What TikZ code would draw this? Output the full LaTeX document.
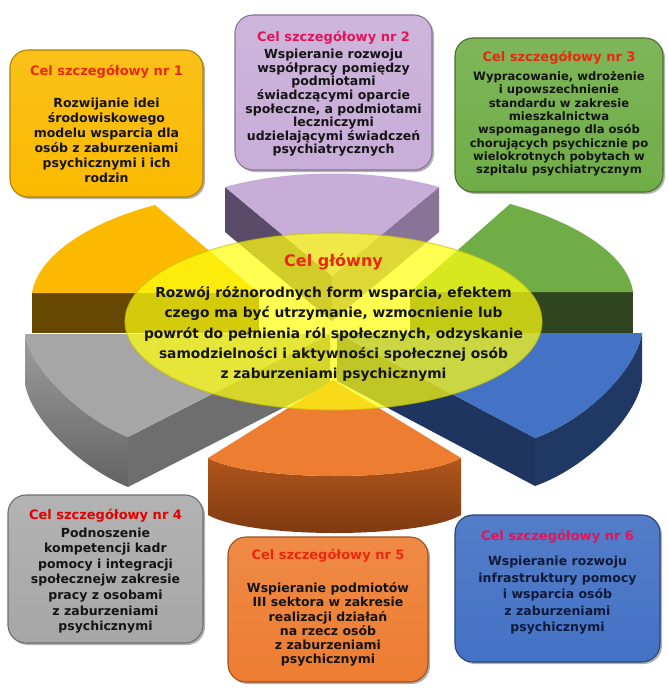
\documentclass[tikz,border=0pt]{standalone}
\usepackage{fontspec}
\setmainfont{DejaVu Sans}
\usetikzlibrary{shadows}
\definecolor{ptop}{HTML}{C8ADD8}
\definecolor{pdark}{HTML}{5A4B69}
\definecolor{pmid}{HTML}{887496}
\definecolor{ytop}{HTML}{FBBA00}
\definecolor{ydark}{HTML}{664800}
\definecolor{gtop}{HTML}{70AD47}
\definecolor{gdark}{HTML}{2E4520}
\definecolor{grtop}{HTML}{A6A6A6}
\definecolor{grcut}{HTML}{6E6E6E}
\definecolor{btop}{HTML}{4472C4}
\definecolor{bdark}{HTML}{1F3864}
\definecolor{otop}{HTML}{ED7D31}
\definecolor{oside}{HTML}{B0561C}
\definecolor{osidedark}{HTML}{7A3810}
\definecolor{ell}{HTML}{FFFF10}
\definecolor{ellrim}{HTML}{C8C000}
\definecolor{tred}{HTML}{E8290F}
\definecolor{tpink}{HTML}{E0155A}
\definecolor{txt}{HTML}{141414}
\definecolor{navytxt}{HTML}{0F1A3A}
\tikzset{
  boxnode/.style={rounded corners=18pt, inner sep=0pt, line width=1.1pt,
    drop shadow={shadow xshift=2pt, shadow yshift=-2pt, opacity=0.3, fill=black}},
  ttl/.style={font=\bfseries\fontsize{13}{15}\selectfont, inner sep=0pt},
  bodytxt/.style={font=\bfseries\fontsize{12.5}{#1}\selectfont, align=center, inner sep=0pt, text=txt},
}
\begin{document}
\begin{tikzpicture}[x=1pt,y=-1pt]
\useasboundingbox (0,0) rectangle (667,695);
\fill[white] (0,0) rectangle (667,695);

% ---------- purple slice (top) ----------
\fill[pdark] (225,187) -- (332,276) -- (332,321) -- (225,232) -- cycle;
\fill[pmid] (439,187) -- (332,276) -- (332,321) -- (439,232) -- cycle;
\fill[ptop] (225,187) .. controls (290,169) and (376,169) .. (439,187) -- (332,276) -- cycle;

% ---------- yellow slice (upper left) ----------
\fill[ydark] (32,293) -- (259,293) -- (259,333) -- (32,333) -- cycle;
\fill[ytop] (155,205) .. controls (90,222) and (38,255) .. (32,293) -- (259,293) -- cycle;

% ---------- green slice (upper right) ----------
\fill[gdark] (633,292) -- (410,292) -- (410,333) -- (633,333) -- cycle;
\fill[gtop] (510,204) .. controls (576,222) and (628,255) .. (633,292) -- (410,292) -- cycle;

% ---------- gray slice (lower left) ----------
\fill[grcut] (128,437) -- (330,334) -- (330,384) -- (128,487) -- cycle;
\shade[top color=grtop!95!black, bottom color=grcut!90!black]
  (25,334) .. controls (31,370) and (81,418) .. (128,437) -- (128,487)
  .. controls (81,468) and (31,420) .. (25,384) -- cycle;
\fill[grtop] (25,334) .. controls (31,370) and (81,418) .. (128,437) -- (330,334) -- cycle;

% ---------- blue slice (lower right) ----------
\fill[bdark!95!black] (535,438) -- (337,333) -- (337,381) -- (535,486) -- cycle;
\fill[bdark] (642,333) .. controls (636,370) and (586,420) .. (535,438) -- (535,486)
  .. controls (586,468) and (636,418) .. (642,381) -- cycle;
\fill[btop] (642,333) .. controls (636,370) and (586,420) .. (535,438) -- (337,333) -- cycle;

% ---------- orange slice (bottom) ----------
\shade[top color=oside, bottom color=osidedark]
  (208,458) .. controls (250,482) and (420,482) .. (461,458) -- (461,515)
  .. controls (420,539) and (250,539) .. (208,515) -- cycle;
\fill[otop] (208,458) -- (333,380) -- (461,458) .. controls (420,482) and (250,482) .. (208,458) -- cycle;

% ---------- central ellipse ----------
\fill[ell, fill opacity=0.72] (333.5,321.5) ellipse [x radius=208.5pt, y radius=88.5pt];
\draw[ellrim, draw opacity=0.6, line width=1.2pt] (333.5,321.5) ellipse [x radius=208.5pt, y radius=88.5pt];
\node[font=\bfseries\fontsize{16}{18}\selectfont, text=tred, inner sep=0pt] (maintitle) at (333.5,262) {Cel główny};
\node[font=\bfseries\fontsize{13.8}{20.2}\selectfont, align=center, inner sep=0pt, text=txt] (maintext) at (333.5,334)
  {Rozwój różnorodnych form wsparcia, efektem\\
   czego ma być utrzymanie, wzmocnienie lub\\
   powrót do pełnienia ról społecznych, odzyskanie\\
   samodzielności i aktywności społecznej osób\\
   z zaburzeniami psychicznymi};

% ---------- boxes ----------
\node[boxnode, top color=ytop!90!white, bottom color=ytop, draw=ytop!70!black, minimum width=193pt, minimum height=147pt] (b1) at (106.5,123.5) {};
\node[ttl, text=tred] (t1) at (106.5,72) {Cel szczegółowy nr 1};
\node[bodytxt=15] (d1) at (106.5,140.5) {Rozwijanie idei\\środowiskowego\\modelu wsparcia dla\\osób z zaburzeniami\\psychicznymi i ich\\rodzin};

\node[boxnode, top color=ptop!90!white, bottom color=ptop, draw=pmid, minimum width=197pt, minimum height=155pt] (b2) at (333.5,92.5) {};
\node[ttl, text=tpink] (t2) at (333.5,38) {Cel szczegółowy nr 2};
\node[bodytxt=13.6] (d2) at (333.5,103) {Wspieranie rozwoju\\współpracy pomiędzy\\podmiotami\\świadczącymi oparcie\\społeczne, a podmiotami\\leczniczymi\\udzielającymi świadczeń\\psychiatrycznych};

\node[boxnode, top color=gtop!90!white, bottom color=gtop, draw=gtop!65!black, minimum width=208pt, minimum height=154pt] (b3) at (559,115) {};
\node[ttl, text=tred] (t3) at (559,58) {Cel szczegółowy nr 3};
\node[font=\bfseries\fontsize{11.6}{13.3}\selectfont, align=center, inner sep=0pt, text=txt] (d3) at (559,124) {Wypracowanie, wdrożenie\\i upowszechnienie\\standardu w zakresie\\mieszkalnictwa\\wspomaganego dla osób\\chorujących psychicznie po\\wielokrotnych pobytach w\\szpitalu psychiatrycznym};

\node[boxnode, top color=grtop!85!white, bottom color=grtop, draw=grcut, minimum width=195pt, minimum height=148pt] (b4) at (105.5,569) {};
\node[ttl, text=red!90!black] (t4) at (105.5,516) {Cel szczegółowy nr 4};
\node[bodytxt=15.6] (d4) at (105.5,580.5) {Podnoszenie\\kompetencji kadr\\pomocy i integracji\\społecznejw zakresie\\pracy z osobami\\z zaburzeniami\\psychicznymi};

\node[boxnode, top color=otop!90!white, bottom color=otop, draw=otop!65!black, minimum width=200pt, minimum height=145pt] (b5) at (328,609.5) {};
\node[ttl, text=tred] (t5) at (328,556) {Cel szczegółowy nr 5};
\node[bodytxt=14.3] (d5) at (328,624.5) {Wspieranie podmiotów\\III sektora w zakresie\\realizacji działań\\na rzecz osób\\z zaburzeniami\\psychicznymi};

\node[boxnode, top color=btop!92!white, bottom color=btop, draw=btop!60!black, minimum width=205pt, minimum height=147pt] (b6) at (557.5,588.5) {};
\node[ttl, text=tpink] (t6) at (557.5,537) {Cel szczegółowy nr 6};
\node[bodytxt=16.5, text=navytxt] (d6) at (557.5,595.5) {Wspieranie rozwoju\\infrastruktury pomocy\\i wsparcia osób\\z zaburzeniami\\psychicznymi};
\end{tikzpicture}
\end{document}
